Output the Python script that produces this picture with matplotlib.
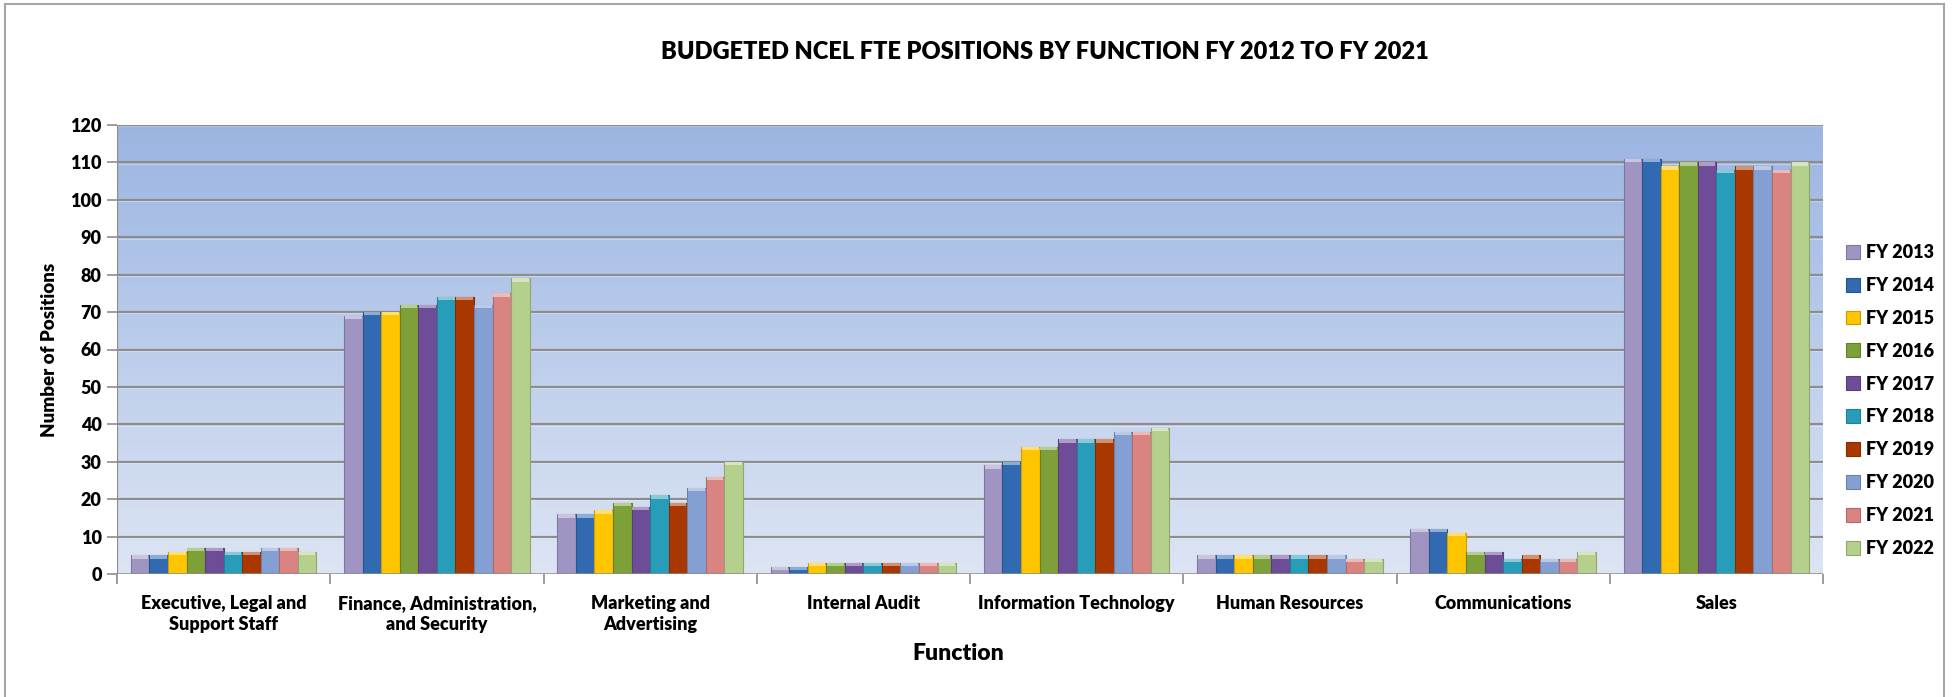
import numpy as np
import matplotlib
matplotlib.use("Agg")
import matplotlib.pyplot as plt
from matplotlib import font_manager
from matplotlib.colors import to_rgb, LinearSegmentedColormap
from matplotlib.lines import Line2D

# ---------------- data ----------------
categories = ["Executive, Legal and\nSupport Staff",
              "Finance, Administration,\nand Security",
              "Marketing and\nAdvertising",
              "Internal Audit",
              "Information Technology",
              "Human Resources",
              "Communications",
              "Sales"]
series_names = ["FY 2013", "FY 2014", "FY 2015", "FY 2016", "FY 2017",
                "FY 2018", "FY 2019", "FY 2020", "FY 2021", "FY 2022"]

fy2013 = [5, 69, 16, 2, 29, 5, 12, 111]
fy2014 = [5, 70, 16, 2, 30, 5, 12, 111]
fy2015 = [6, 70, 17, 3, 34, 5, 11, 109]
fy2016 = [7, 72, 19, 3, 34, 5, 6, 110]
fy2017 = [7, 72, 18, 3, 36, 5, 6, 110]
fy2018 = [6, 74, 21, 3, 36, 5, 4, 108]
fy2019 = [6, 74, 19, 3, 36, 5, 5, 109]
fy2020 = [7, 72, 23, 3, 38, 5, 4, 109]
fy2021 = [7, 75, 26, 3, 38, 4, 4, 108]
fy2022 = [6, 79, 30, 3, 39, 4, 6, 110]
series_values = [fy2013, fy2014, fy2015, fy2016, fy2017,
                 fy2018, fy2019, fy2020, fy2021, fy2022]

yticks = list(range(0, 121, 10))

colors = ["#A094C3", "#316AB0", "#FFC500", "#7EA038", "#6E4D98",
          "#289DBA", "#A83800", "#84A0D2", "#DA8482", "#B5CF8C"]

title = "BUDGETED NCEL FTE POSITIONS BY FUNCTION FY 2012 TO FY 2021"

# ---------------- fonts ----------------
avail = {f.name for f in font_manager.fontManager.ttflist}
fam = "Lato" if "Lato" in avail else "DejaVu Sans"
plt.rcParams["font.family"] = [fam, "DejaVu Sans"]
WT = "heavy"
plt.rcParams["font.weight"] = WT

W, H = 1955, 697
fig = plt.figure(figsize=(W / 100, H / 100), dpi=100)
fig.patch.set_facecolor("white")

L, R, T, B = 117, 1823, 125, 574
ax = fig.add_axes([L / W, 1 - B / H, (R - L) / W, (B - T) / H])

n_cat = len(categories)
n_ser = len(series_names)
group = 0.87
bw = group / n_ser
x = np.arange(n_cat)

ax.set_xlim(-0.5, n_cat - 0.5)
ax.set_ylim(0, 120)

# background gradient
cmap = LinearSegmentedColormap.from_list("bg", ["#DDE5F4", "#9BB5E2"])
grad = np.linspace(0, 1, 256).reshape(-1, 1)
ax.imshow(grad, cmap=cmap, aspect="auto", origin="lower",
          extent=[-0.5, n_cat - 0.5, 0, 120], zorder=0)

# gridlines
for yv in yticks[1:]:
    ax.axhline(yv, color="#8C8C8C", lw=1.6, zorder=1)
    ax.axhline(yv - 0.35, color="#FFFFFF", lw=0.8, alpha=0.35, zorder=1)

def shade(c, f):
    r, g, b = to_rgb(c)
    return (r * f, g * f, b * f)

def tint(c, f):
    r, g, b = to_rgb(c)
    return (r + (1 - r) * f, g + (1 - g) * f, b + (1 - b) * f)

handles = []
for i, (name, vals, col) in enumerate(zip(series_names, series_values, colors)):
    xs = x - group / 2 + bw * (i + 0.5)
    h = ax.bar(xs, vals, width=bw, color=col, edgecolor=shade(col, 0.8),
               linewidth=0.8, zorder=3, label=name)
    # bevel cap
    vals_arr = np.asarray(vals, dtype=float)
    cap = np.minimum(0.9, vals_arr * 0.4)
    ax.bar(xs, cap, bottom=vals_arr - cap, width=bw * 0.9, color=tint(col, 0.45),
           linewidth=0, zorder=4)
    handles.append(h)

# axes styling
for s in ["right", "bottom", "left", "top"]:
    ax.spines[s].set_visible(False)
ax.axhline(120, color="#8C8C8C", lw=1.6, zorder=5)
ax.axvline(-0.5, color="#8C8C8C", lw=1.6, zorder=5)
ax.axhline(0, color="#8C8C8C", lw=1.8, zorder=5)

FS = 13
ax.set_yticks(yticks)
ax.set_yticklabels([str(v) for v in yticks], fontsize=FS, fontweight=WT)
ax.tick_params(axis="y", length=7, width=1.2, color="#8C8C8C", pad=4)

ax.set_xticks(x)
ax.set_xticklabels(categories, fontsize=FS, fontweight=WT, linespacing=1.3)
ax.tick_params(axis="x", which="major", length=0, pad=15)
ax.set_xticks(np.arange(-0.5, n_cat, 1.0), minor=True)
ax.tick_params(axis="x", which="minor", length=7, width=1.2, color="#8C8C8C")

ax.set_ylabel("Number of Positions", fontsize=13.5, fontweight=WT, labelpad=9)

fig.text(1045 / W, 1 - 52 / H, title, ha="center", va="center",
         fontsize=17, fontweight=WT)
fig.text(958 / W, 1 - 654 / H, "Function", ha="center", va="center",
         fontsize=16.5, fontweight=WT)

leg = fig.legend(handles, series_names, loc="center left",
                 bbox_to_anchor=(1846 / W, 1 - 400.5 / H), frameon=False,
                 fontsize=FS, labelspacing=0.88, handlelength=0.8,
                 handleheight=0.8, handletextpad=0.3, borderpad=0,
                 borderaxespad=0)
for t in leg.get_texts():
    t.set_fontweight(WT)

# outer chart border
bc = "#A6A6A6"
fig.add_artist(Line2D([5 / W, 5 / W], [0, 1 - 4 / H], color=bc, lw=1.5,
                      transform=fig.transFigure))
fig.add_artist(Line2D([5 / W, 1944 / W], [1 - 4 / H, 1 - 4 / H], color=bc, lw=1.5,
                      transform=fig.transFigure))
fig.add_artist(Line2D([1944 / W, 1944 / W], [0, 1 - 4 / H], color=bc, lw=1.5,
                      transform=fig.transFigure))

fig.savefig("out.png", dpi=100, facecolor="white")
